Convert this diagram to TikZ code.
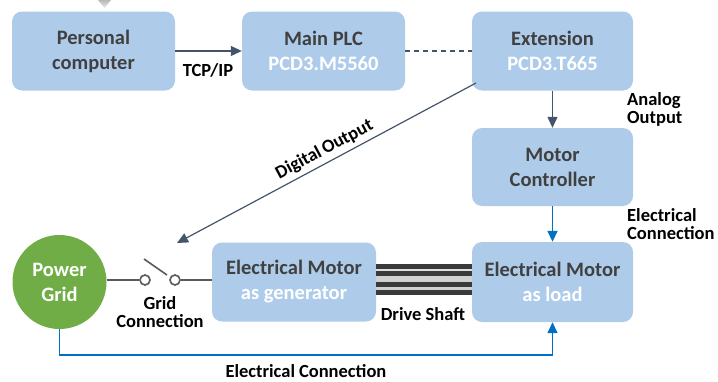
\documentclass[tikz,border=0pt]{standalone}
\usepackage{fontspec}
\setmainfont{Carlito}
\usetikzlibrary{arrows.meta}
\definecolor{boxblue}{RGB}{174,204,234}
\definecolor{darktext}{RGB}{64,64,64}
\definecolor{arrowdark}{RGB}{68,84,106}
\definecolor{linkblue}{RGB}{0,112,192}
\definecolor{gridgreen}{RGB}{112,173,71}
\definecolor{swgray}{RGB}{89,89,89}
\definecolor{shaftdark}{RGB}{58,58,58}
\definecolor{shaftlight}{RGB}{208,208,208}
\begin{document}
\begin{tikzpicture}[x=1pt,y=-1pt,
  box/.style={rounded corners=10pt, fill=boxblue, minimum width=163pt, minimum height=79pt,
    align=center, font=\bfseries\fontsize{20.5}{25}\selectfont, text=darktext, inner sep=0pt},
  lbl/.style={font=\bfseries\fontsize{18.5}{18}\selectfont, text=black, align=center, inner sep=0pt},
  darrow/.style={draw=arrowdark, line width=1.2pt, -{Triangle[length=11pt,width=10pt]}},
  barrow/.style={draw=linkblue, line width=1.5pt, -{Triangle[length=11pt,width=10pt]}},
  swline/.style={draw=swgray, line width=1.6pt},
  swdot/.style={circle, draw=swgray, line width=1.6pt, fill=white, minimum size=10pt, inner sep=0pt}
]
\useasboundingbox (0,0) rectangle (718,381);

% small shadow fragment at the top edge
\shade[top color=gray!55, bottom color=gray!15] (98,0) -- (111,0) -- (104.5,8) -- cycle;

% boxes
\node[box] (pc) at (93.5,51) {Personal\\computer};
\node[box] (plc) at (323.5,51) {Main PLC\\\textcolor{white}{PCD3.M5560}};
\node[box, minimum width=161pt] (ext) at (552.5,51) {Extension\\\textcolor{white}{PCD3.T665}};
\node[box, minimum width=161pt, minimum height=78pt] (mc) at (552.5,167) {Motor\\Controller};
\node[box, minimum width=164pt] (gen) at (294,282) {Electrical Motor\\\textcolor{white}{as generator}};
\node[box, minimum width=161pt, minimum height=80pt] (load) at (552.5,282) {Electrical Motor\\\textcolor{white}{as load}};
\node[circle, fill=gridgreen, minimum size=94pt, inner sep=0pt, align=center,
  font=\bfseries\fontsize{20.5}{25}\selectfont, text=white] (grid) at (59.5,282) {Power\\Grid};

% top connectors
\draw[darrow] (pc.east) -- (plc.west);
\node[lbl] (tcp) at (208,70) {TCP/IP};
\draw[draw=arrowdark, line width=1.2pt, dash pattern=on 5pt off 4pt] (plc.east) -- (ext.west);
\draw[darrow] (ext.south) -- (mc.north);
\node[lbl, anchor=west, align=left] (ao) at (627,109) {Analog\\Output};
\draw[barrow] (mc.south) -- (load.north);
\node[lbl, anchor=west, align=left] (ec1) at (627,224) {Electrical\\Connection};

% digital output
\coordinate (dstart) at (476,83);
\coordinate (dend) at (177,243);
\draw[darrow] (dstart) -- node[lbl, sloped, above=4pt, pos=0.487] (dol) {Digital\hspace{3pt}Output} (dend);

% switch
\node[swdot] (sw1) at (145,280) {};
\node[swdot] (sw2) at (175,280) {};
\draw[swline] (grid.east |- sw1) -- (sw1.west);
\draw[swline] (sw2.east) -- (gen.west |- sw2);
\coordinate (lev1) at (144,259);
\coordinate (lev2) at (167,275);
\draw[swline] (lev1) -- (lev2);
\node[lbl] (gc) at (160,312) {Grid\\Connection};

% drive shaft
\fill[shaftlight] (376,264) rectangle (472,295);
\fill[white!88!black] (376,268.7) rectangle (472,270.7);
\fill[shaftdark] (376,264) rectangle (472,268.7);
\fill[shaftdark] (376,270.7) rectangle (472,275.7);
\fill[shaftdark] (376,282) rectangle (472,287.3);
\fill[shaftdark] (376,290) rectangle (472,294.7);
\node[lbl] (ds) at (423,314) {Drive Shaft};

% bottom electrical connection
\coordinate (bot) at (0,355);
\draw[barrow] (grid.south) -- (grid.south |- bot) -- (load.south |- bot) -- (load.south);
\node[lbl] (ec2) at (306,371) {Electrical\hspace{4pt}Connection};
\end{tikzpicture}
\end{document}
